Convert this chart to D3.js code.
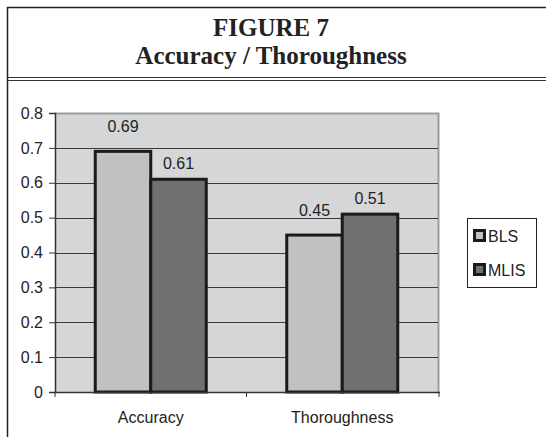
<!DOCTYPE html>
<html>
<head>
<meta charset="utf-8">
<script src="https://cdnjs.cloudflare.com/ajax/libs/d3/7.8.5/d3.min.js"></script>
<style>
  body { margin: 0; background: #fff; }
  svg text { font-family: "Liberation Sans", Arial, sans-serif; }
</style>
</head>
<body>
<div id="chart"></div>
<script>
const categories = ["Accuracy", "Thoroughness"];
const seriesNames = ["BLS", "MLIS"];
const blsValues = [0.69, 0.45];
const mlisValues = [0.61, 0.51];
const yTicks = [0, 0.1, 0.2, 0.3, 0.4, 0.5, 0.6, 0.7, 0.8];
const titleLines = ["FIGURE 7", "Accuracy / Thoroughness"];

const largura = 546, altura = 437;
const cores = { BLS: "#c0c1c3", MLIS: "#6f7072" };
// distância do rótulo até o topo da barra, por série (como no original)
const afastamentoRotulo = { BLS: 19, MLIS: 10.5 };

const svg = d3.select("#chart").append("svg")
    .attr("width", largura).attr("height", altura);

// moldura externa + cabeçalho
svg.append("path")
    .attr("d", `M 7.5,${altura} L 7.5,7.5 L ${largura},7.5`)
    .attr("fill", "none").attr("stroke", "#222").attr("stroke-width", 1.5);
svg.append("line").attr("x1", 7).attr("x2", largura).attr("y1", 77.5).attr("y2", 77.5)
    .attr("stroke", "#333").attr("stroke-width", 1);
svg.append("line").attr("x1", 7).attr("x2", largura).attr("y1", 80.5).attr("y2", 80.5)
    .attr("stroke", "#333").attr("stroke-width", 1);

svg.selectAll(".titulo").data(titleLines).enter().append("text")
    .attr("class", "titulo")
    .attr("x", 271).attr("y", (d, i) => 36 + i * 28)
    .attr("text-anchor", "middle")
    .style("font-family", "'Liberation Serif', 'Times New Roman', serif")
    .style("font-weight", "bold").style("font-size", "25px")
    .attr("fill", "#222")
    .text(d => d);

const plot = { left: 55, right: 438, top: 113, bottom: 392 };

const y = d3.scaleLinear().domain([0, 0.8]).range([plot.bottom, plot.top]);
const x0 = d3.scaleBand().domain(categories).range([plot.left, plot.right]);
const barW = 55.5;
const x1 = d3.scaleBand().domain(seriesNames).range([0, barW * 2]);

const g = svg.append("g");

// fundo da área de plotagem
g.append("rect")
    .attr("x", plot.left).attr("y", plot.top)
    .attr("width", plot.right - plot.left).attr("height", plot.bottom - plot.top)
    .attr("fill", "#d5d6d8");
g.append("path")
    .attr("d", `M ${plot.left},${plot.top + 0.5} L ${plot.right + 0.5},${plot.top + 0.5} L ${plot.right + 0.5},${plot.bottom}`)
    .attr("fill", "none").attr("stroke", "#9a9b9d").attr("stroke-width", 2);

// linhas de grade
g.selectAll(".grade").data(yTicks.filter(t => t > 0 && t < 0.8)).enter().append("line")
    .attr("class", "grade")
    .attr("x1", plot.left).attr("x2", plot.right)
    .attr("y1", d => Math.round(y(d)) + 0.5).attr("y2", d => Math.round(y(d)) + 0.5)
    .attr("stroke", "#3a3a3a").attr("stroke-width", 1);

// barras
const dados = categories.map((c, i) => ({ categoria: c, valores: [
    { serie: "BLS", valor: blsValues[i] },
    { serie: "MLIS", valor: mlisValues[i] }
] }));

const grupos = g.selectAll(".cat").data(dados).enter().append("g")
    .attr("class", "cat")
    .attr("transform", d => `translate(${x0(d.categoria) + (x0.bandwidth() - barW * 2) / 2},0)`);

grupos.selectAll("rect").data(d => d.valores).enter().append("rect")
    .attr("x", d => x1(d.serie))
    .attr("y", d => y(d.valor))
    .attr("width", x1.bandwidth())
    .attr("height", d => plot.bottom - y(d.valor))
    .attr("fill", d => cores[d.serie])
    .attr("stroke", "#1a1a1a").attr("stroke-width", 3);

grupos.selectAll(".rotulo").data(d => d.valores).enter().append("text")
    .attr("class", "rotulo")
    .attr("x", d => x1(d.serie) + x1.bandwidth() / 2)
    .attr("y", d => y(d.valor) - afastamentoRotulo[d.serie])
    .attr("text-anchor", "middle")
    .style("font-size", "16px").attr("fill", "#222")
    .text(d => d.valor.toFixed(2));

// eixo y
const eixoY = svg.append("g")
    .attr("transform", `translate(${plot.left},0)`)
    .call(d3.axisLeft(y).tickValues(yTicks).tickSize(6).tickFormat(d => d === 0 ? "0" : d3.format(".1f")(d)));
eixoY.select(".domain").attr("stroke", "#333").attr("stroke-width", 1.5);
eixoY.selectAll(".tick line").attr("stroke", "#333");
eixoY.selectAll(".tick text").style("font-size", "16px").attr("fill", "#222").attr("x", -12);

// eixo x
const eixoX = svg.append("g")
    .attr("transform", `translate(0,${plot.bottom})`);
eixoX.append("line").attr("x1", plot.left).attr("x2", plot.right + 2)
    .attr("y1", 0.5).attr("y2", 0.5).attr("stroke", "#333").attr("stroke-width", 1.5);
eixoX.selectAll(".tickx").data([plot.left, (plot.left + plot.right) / 2, plot.right + 1]).enter().append("line")
    .attr("x1", d => d).attr("x2", d => d).attr("y1", 0).attr("y2", 5)
    .attr("stroke", "#333");
eixoX.selectAll(".catlabel").data(categories).enter().append("text")
    .attr("x", d => x0(d) + x0.bandwidth() / 2)
    .attr("y", 31)
    .attr("text-anchor", "middle")
    .style("font-size", "16px").attr("fill", "#222")
    .text(d => d);

// legenda
const leg = svg.append("g").attr("transform", "translate(467,218)");
leg.append("rect").attr("x", 0.5).attr("y", 0.5).attr("width", 69).attr("height", 69)
    .attr("fill", "#fff").attr("stroke", "#222").attr("stroke-width", 1);
const itens = leg.selectAll(".item").data(seriesNames).enter().append("g")
    .attr("transform", (d, i) => `translate(7.5,${12.5 + i * 34})`);
itens.append("rect").attr("x", 0).attr("y", 0).attr("width", 10).attr("height", 10)
    .attr("fill", d => cores[d]).attr("stroke", "#1a1a1a").attr("stroke-width", 3);
itens.append("text").attr("x", 13.5).attr("y", 11.5)
    .style("font-size", "16px").attr("fill", "#222")
    .text(d => d);
</script>
</body>
</html>
